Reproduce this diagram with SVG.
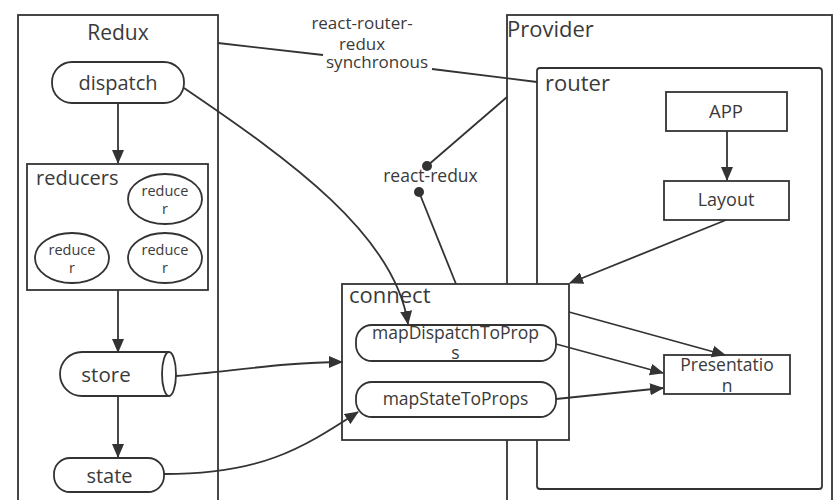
<svg xmlns="http://www.w3.org/2000/svg" width="839" height="500" viewBox="0 0 839 500">
<defs>
<marker id="arr" markerWidth="14" markerHeight="12" refX="13" refY="6" orient="auto" markerUnits="userSpaceOnUse">
<path d="M0,0 L14,6 L0,12 Z" fill="#333"/>
</marker>
<style>
.box{fill:none;stroke:#333;stroke-width:1.8}
.node{fill:#fff;stroke:#333;stroke-width:1.8}
.t{font-family:"Open Sans","DejaVu Sans",sans-serif;fill:#3a3a3a}
.c{text-anchor:middle}
.ln{fill:none;stroke:#333;stroke-width:1.8}
.ar{fill:none;stroke:#333;stroke-width:1.8;marker-end:url(#arr)}
</style>
</defs>
<rect width="839" height="500" fill="#fff"/>

<g id="redux">
<rect class="box" x="18" y="15" width="200" height="500"/>
<text class="t c" x="118" y="40" font-size="21">Redux</text>
</g>

<g id="provider">
<rect class="box" x="507" y="15" width="325" height="500"/>
<text class="t" x="507" y="37" font-size="22">Provider</text>
</g>

<g id="router">
<rect class="box" x="537" y="68" width="285" height="421" rx="3"/>
<text class="t" x="545" y="91" font-size="22">router</text>
</g>

<g id="dispatch">
<rect class="node" x="52" y="62" width="132" height="41" rx="20"/>
<text class="t c" x="118" y="90" font-size="20">dispatch</text>
</g>

<g id="reducers">
<rect class="node" x="27" y="164" width="181" height="126"/>
<text class="t" x="36" y="185" font-size="20">reducers</text>
</g>

<g id="reducer1">
<ellipse class="node" cx="165" cy="199" rx="37" ry="25"/>
<text class="t c" x="165" y="196" font-size="14.5">reduce</text>
<text class="t c" x="165" y="214" font-size="14.5">r</text>
</g>
<g id="reducer2">
<ellipse class="node" cx="72" cy="258" rx="37" ry="25"/>
<text class="t c" x="72" y="255" font-size="14.5">reduce</text>
<text class="t c" x="72" y="273" font-size="14.5">r</text>
</g>
<g id="reducer3">
<ellipse class="node" cx="165" cy="258" rx="37" ry="25"/>
<text class="t c" x="165" y="255" font-size="14.5">reduce</text>
<text class="t c" x="165" y="273" font-size="14.5">r</text>
</g>

<g id="store">
<path class="node" d="M169,352 H82 A22,22 0 0 0 82,396 H169"/>
<ellipse class="node" cx="169" cy="374" rx="7" ry="22"/>
<text class="t c" x="106" y="382" font-size="20.5">store</text>
</g>

<g id="state">
<rect class="node" x="54" y="458" width="110" height="34" rx="16"/>
<text class="t c" x="109.5" y="483" font-size="20">state</text>
</g>

<g id="connect">
<rect class="node" x="342" y="284" width="227" height="156"/>
<text class="t" x="349" y="303" font-size="22">connect</text>
</g>

<g id="mapDispatchToProps">
<rect class="node" x="356" y="325" width="200" height="36" rx="16"/>
<text class="t c" x="455.5" y="339" font-size="17.5">mapDispatchToProp</text>
<text class="t c" x="455.5" y="359" font-size="17.5">s</text>
</g>

<g id="mapStateToProps">
<rect class="node" x="356" y="382" width="200" height="35" rx="16"/>
<text class="t c" x="455.5" y="405" font-size="17.5">mapStateToProps</text>
</g>

<g id="app">
<rect class="node" x="666" y="92" width="121" height="39"/>
<text class="t c" x="726" y="118" font-size="18.5">APP</text>
</g>

<g id="layout">
<rect class="node" x="664" y="181" width="125" height="39"/>
<text class="t c" x="726" y="206" font-size="18">Layout</text>
</g>

<g id="presentation">
<rect class="node" x="664" y="355" width="126" height="39"/>
<text class="t c" x="727" y="371" font-size="17.5">Presentatio</text>
<text class="t c" x="727" y="392" font-size="17.5">n</text>
</g>

<g id="connectors">
<line class="ar" x1="118" y1="103" x2="118" y2="163"/>
<line class="ar" x1="118" y1="290" x2="118" y2="352"/>
<line class="ar" x1="118" y1="396" x2="118" y2="457"/>
<line class="ar" x1="727" y1="131" x2="727" y2="180"/>
<path class="ar" d="M184,88 C290,160 395,235 408,324"/>
<path class="ar" d="M176,376 C240,370 290,362 342,362"/>
<path class="ar" d="M164,474 C260,474 300,450 358,412"/>
<line class="ar" x1="726" y1="220" x2="570" y2="283"/>
<line class="ar" x1="569" y1="312" x2="725" y2="355"/>
<line class="ar" x1="556" y1="344" x2="663" y2="373"/>
<line class="ar" x1="556" y1="399" x2="663" y2="388"/>
<polyline class="ln" points="218,43 323,55"/>
<polyline class="ln" points="432,69 537,82"/>
<text class="t c" x="362" y="29" font-size="17">react-router-</text>
<text class="t c" x="362" y="50" font-size="17">redux</text>
<text class="t c" x="377" y="68" font-size="17">synchronous</text>
<line class="ln" x1="507" y1="97" x2="427" y2="166"/>
<circle cx="427" cy="166" r="5" fill="#333"/>
<text class="t c" x="430.5" y="182" font-size="17.5">react-redux</text>
<circle cx="419" cy="192" r="5" fill="#333"/>
<line class="ln" x1="419" y1="192" x2="456" y2="284"/>
</g>
</svg>
